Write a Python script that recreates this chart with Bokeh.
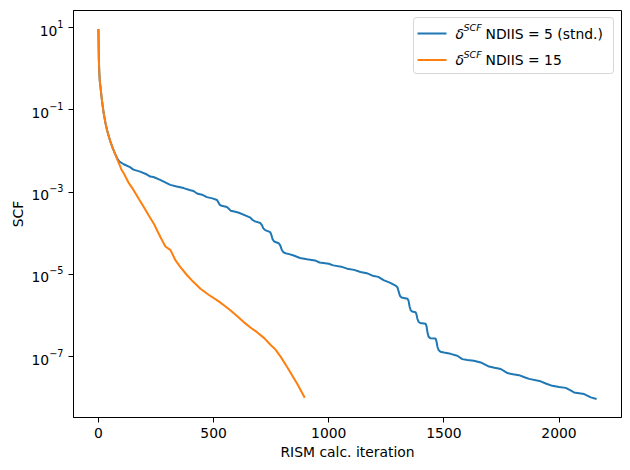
import numpy as np
from bokeh.plotting import figure
from bokeh.models import (Range1d, FixedTicker, LogTickFormatter, Label,
                          BoxAnnotation, Arrow)
from bokeh.embed import file_html
from bokeh.resources import INLINE

# SCF residual per RISM iteration, NDIIS = 5 (standard setting)
iter_ndiis5 = [0, 1, 2, 4, 6, 9, 13, 17, 23, 31,
               38, 46, 54, 63, 72, 82, 90, 110, 137, 152,
               181, 211, 225, 239, 268, 290, 312, 340, 370, 399,
               413, 428, 450, 471, 495, 515, 520, 526, 535, 558,
               566, 574, 590, 610, 645, 660, 668, 680, 703, 710,
               716, 724, 746, 751, 756, 763, 783, 790, 796, 803,
               815, 825, 848, 875, 906, 940, 960, 1000, 1020, 1060,
               1080, 1110, 1138, 1170, 1190, 1215, 1238, 1265, 1290, 1298,
               1304, 1309, 1316, 1342, 1347, 1351, 1356, 1362, 1377, 1381,
               1385, 1390, 1397, 1421, 1425, 1429, 1434, 1441, 1464, 1468,
               1472, 1477, 1485, 1500, 1529, 1558, 1580, 1602, 1630, 1660,
               1696, 1720, 1747, 1776, 1800, 1826, 1850, 1870, 1920, 1945,
               1971, 2000, 2029, 2050, 2065, 2109, 2138, 2163]
scf_ndiis5 = [9.33e0, 3.55e0, 1.62e0, 7.94e-1, 5.01e-1, 3.63e-1, 2.24e-1, 1.45e-1, 8.32e-2, 4.68e-2,
              3.16e-2, 2.19e-2, 1.58e-2, 1.15e-2, 8.71e-3, 6.61e-3, 5.62e-3, 4.79e-3, 4.07e-3, 3.55e-3,
              3.16e-3, 2.69e-3, 2.40e-3, 2.34e-3, 2.00e-3, 1.74e-3, 1.51e-3, 1.38e-3, 1.26e-3, 1.12e-3,
              1.07e-3, 9.33e-4, 8.71e-4, 7.59e-4, 7.08e-4, 6.46e-4, 5.75e-4, 5.01e-4, 4.68e-4, 4.37e-4,
              3.98e-4, 3.55e-4, 3.39e-4, 3.16e-4, 2.63e-4, 2.40e-4, 2.14e-4, 1.95e-4, 1.78e-4, 1.58e-4,
              1.32e-4, 1.20e-4, 1.07e-4, 9.12e-5, 7.24e-5, 6.31e-5, 5.75e-5, 5.01e-5, 3.98e-5, 3.47e-5,
              3.24e-5, 3.16e-5, 2.88e-5, 2.51e-5, 2.34e-5, 2.19e-5, 1.95e-5, 1.82e-5, 1.66e-5, 1.51e-5,
              1.38e-5, 1.29e-5, 1.15e-5, 1.05e-5, 9.33e-6, 8.71e-6, 7.24e-6, 6.31e-6, 5.37e-6, 4.90e-6,
              3.80e-6, 3.02e-6, 2.75e-6, 2.57e-6, 2.24e-6, 1.66e-6, 1.35e-6, 1.26e-6, 1.20e-6, 1.07e-6,
              8.32e-7, 7.08e-7, 6.61e-7, 6.31e-7, 5.37e-7, 3.80e-7, 3.02e-7, 2.82e-7, 2.75e-7, 2.34e-7,
              1.74e-7, 1.45e-7, 1.32e-7, 1.26e-7, 1.17e-7, 1.05e-7, 8.71e-8, 8.32e-8, 7.94e-8, 7.24e-8,
              5.75e-8, 5.37e-8, 5.01e-8, 3.98e-8, 3.72e-8, 3.55e-8, 3.16e-8, 2.88e-8, 2.51e-8, 2.19e-8,
              1.95e-8, 1.82e-8, 1.74e-8, 1.51e-8, 1.35e-8, 1.23e-8, 1.02e-8, 9.33e-9]

# SCF residual per RISM iteration, NDIIS = 15
iter_ndiis15 = [0, 1, 2, 4, 6, 9, 13, 17, 23, 31,
                38, 46, 54, 63, 72, 82, 95, 101, 110, 130,
                153, 175, 197, 218, 240, 255, 269, 291, 313, 335,
                356, 385, 412, 443, 480, 516, 545, 574, 603, 631,
                660, 690, 720, 747, 769, 791, 820, 863, 896]
scf_ndiis15 = [9.33e0, 3.55e0, 1.62e0, 7.94e-1, 5.01e-1, 3.63e-1, 2.24e-1, 1.45e-1, 8.32e-2, 4.68e-2,
               3.16e-2, 2.19e-2, 1.58e-2, 1.15e-2, 8.71e-3, 6.31e-3, 4.17e-3, 3.47e-3, 2.88e-3, 1.74e-3,
               1.12e-3, 6.92e-4, 4.37e-4, 2.75e-4, 1.74e-4, 1.17e-4, 8.13e-5, 4.79e-5, 3.89e-5, 2.19e-5,
               1.51e-5, 9.55e-6, 6.61e-6, 4.47e-6, 3.16e-6, 2.34e-6, 1.78e-6, 1.32e-6, 9.55e-7, 6.92e-7,
               5.13e-7, 3.89e-7, 2.82e-7, 1.95e-7, 1.48e-7, 1.00e-7, 5.50e-8, 2.19e-8, 1.00e-8]

series_labels = ["NDIIS = 5 (stnd.)", "NDIIS = 15"]
series_colors = ["#1f77b4", "#ff7f0e"]
x_ticks = [0, 500, 1000, 1500, 2000]
y_ticks = [1e1, 1e-1, 1e-3, 1e-5, 1e-7]

FONT = "DejaVu Sans"
FS = "13.9px"

# 5 % padding on both axes (log-space padding for y)
x_all = iter_ndiis5 + iter_ndiis15
x_lo, x_hi = min(x_all), max(x_all)
x_pad = 0.05 * (x_hi - x_lo)
ly = np.log10(scf_ndiis5 + scf_ndiis15)
y_pad = 0.05 * (ly.max() - ly.min())

p = figure(width=630, height=470, y_axis_type="log",
           x_range=Range1d(x_lo - x_pad, x_hi + x_pad),
           y_range=Range1d(10 ** (ly.min() - y_pad), 10 ** (ly.max() + y_pad)),
           output_backend="svg", toolbar_location=None,
           min_border_left=73, min_border_right=9,
           min_border_top=10, min_border_bottom=53)

p.background_fill_color = "white"
p.border_fill_color = "white"
p.outline_line_color = "black"
p.outline_line_width = 1
p.grid.visible = False

p.xaxis.ticker = FixedTicker(ticks=x_ticks, minor_ticks=[])
p.yaxis.ticker = FixedTicker(ticks=y_ticks, minor_ticks=[])
p.yaxis.formatter = LogTickFormatter()

for ax in (p.xaxis[0], p.yaxis[0]):
    ax.axis_line_color = "black"
    ax.major_tick_line_color = "black"
    ax.major_tick_out = 5
    ax.major_tick_in = 0
    ax.minor_tick_line_color = None
    ax.major_label_text_font = FONT
    ax.major_label_text_font_size = FS
    ax.major_label_text_color = "black"
    ax.axis_label_text_font = FONT
    ax.axis_label_text_font_size = FS
    ax.axis_label_text_font_style = "normal"
    ax.axis_label_text_color = "black"
    ax.major_label_standoff = 5

p.xaxis.axis_label = "RISM calc. iteration"
p.yaxis.axis_label = "SCF"
p.xaxis.axis_label_standoff = 3
p.yaxis.axis_label_standoff = 2

p.line(iter_ndiis5, scf_ndiis5, line_color=series_colors[0], line_width=2)
p.line(iter_ndiis15, scf_ndiis15, line_color=series_colors[1], line_width=2)

# legend box in the upper right corner (screen units, frame-relative)
p.add_layout(BoxAnnotation(left=340, right=540, bottom=344, top=400,
                           left_units="screen", right_units="screen",
                           bottom_units="screen", top_units="screen",
                           fill_color="white", fill_alpha=0.8,
                           line_color="#cccccc", line_alpha=0.8, line_width=1,
                           border_radius=3))
row_y = [384, 357.5]
for label, color, y in zip(series_labels, series_colors, row_y):
    p.add_layout(Arrow(end=None, x_start=344, x_end=373, y_start=y, y_end=y,
                       start_units="screen", end_units="screen",
                       line_color=color, line_width=2))
    p.add_layout(Label(x=382, y=y, x_units="screen", y_units="screen",
                       text="\u03b4", text_font=FONT, text_font_size=FS,
                       text_font_style="italic", text_baseline="middle",
                       text_align="left", text_color="black"))
    p.add_layout(Label(x=390, y=y + 6, x_units="screen", y_units="screen",
                       text="SCF", text_font=FONT, text_font_size="9.5px",
                       text_font_style="italic", text_baseline="middle",
                       text_align="left", text_color="black"))
    p.add_layout(Label(x=412, y=y, x_units="screen", y_units="screen",
                       text=label, text_font=FONT, text_font_size=FS,
                       text_baseline="middle", text_align="left",
                       text_color="black"))

open("out.html", "w").write(file_html(p, INLINE))
